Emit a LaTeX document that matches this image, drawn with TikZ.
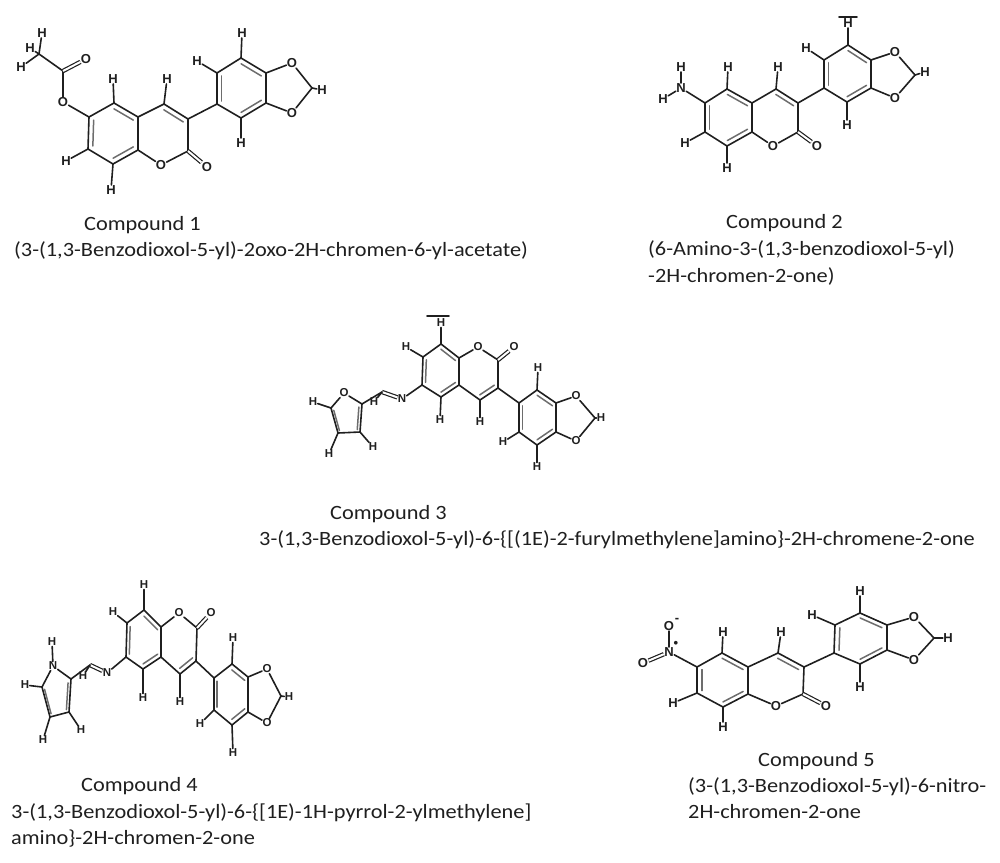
\documentclass[tikz,border=0pt]{standalone}
\usepackage{fontspec}
\setmainfont[FakeStretch=1.1]{Carlito}
\newfontfamily\atomfont{Liberation Sans}
\usetikzlibrary{calc}
\definecolor{inkdark}{gray}{0.12}
\newcommand{\atomsize}{13}
\tikzset{
	atom/.style={inner sep=0.3pt,font=\fontsize{\atomsize}{\atomsize}\atomfont\bfseries,text=inkdark},
	bond/.style={draw=inkdark,line width=1.6pt,line cap=round},
	innerbond/.style={draw=inkdark!65,line width=1.5pt,line cap=round},
	dblbond/.style={draw=inkdark,line width=1.2pt,double=white,double distance=2pt},
	caption/.style={anchor=base west,inner sep=0pt,font=\fontsize{20.3}{20.3}\selectfont,text=inkdark}
}
% inner line of a ring bond, pulled towards the ring centre
\newcommand{\inbond}[3]{\draw[innerbond] ($(#1)!.19!(#3)$) -- ($(#2)!.19!(#3)$);}
% #1 prefix, #2 carbons, #3 hydrogens, #4 oxygens
\newcommand{\corering}[4]{
	\foreach \n/\x/\y in {#2} \coordinate (#1\n) at (\x,\y);
	\foreach \n/\x/\y in {#3} \node[atom] (#1\n) at (\x,\y) {H};
	\foreach \n/\x/\y in {#4} \node[atom] (#1\n) at (\x,\y) {O};
	\coordinate (#1ra) at ($(#1c6)!.5!(#1c8a)$);
	\coordinate (#1rb) at ($(#1c3)!.5!(#1c8a)$);
	\coordinate (#1rc) at ($(#1p1)!.5!(#1p4)$);
	\draw[bond] (#1c6) -- (#1c5) -- (#1c4a) -- (#1c8a) -- (#1c8) -- (#1c7) -- (#1c6);
	\draw[bond] (#1c4a) -- (#1c4) -- (#1c3) -- (#1c2) -- (#1o1) -- (#1c8a);
	\draw[bond] (#1c3) -- (#1p1) -- (#1p2) -- (#1p3) -- (#1p4) -- (#1p5) -- (#1p6) -- (#1p1);
	\draw[bond] (#1p4) -- (#1oa) -- (#1ch) -- (#1ob) -- (#1p5);
	\draw[dblbond] (#1c2) -- (#1ox);
	\inbond{#1c5}{#1c4a}{#1ra}
	\inbond{#1c6}{#1c7}{#1ra}
	\inbond{#1c8}{#1c8a}{#1ra}
	\inbond{#1c4}{#1c3}{#1rb}
	\inbond{#1p1}{#1p2}{#1rc}
	\inbond{#1p3}{#1p4}{#1rc}
	\inbond{#1p5}{#1p6}{#1rc}
	\draw[bond] (#1c5) -- (#1h5);
	\draw[bond] (#1c4) -- (#1h4);
	\draw[bond] (#1c7) -- (#1h7);
	\draw[bond] (#1c8) -- (#1h8);
	\draw[bond] (#1p2) -- (#1hp2);
	\draw[bond] (#1p3) -- (#1hp3);
	\draw[bond] (#1p6) -- (#1hp6);
	\draw[bond] (#1ch) -- (#1hch);
}
\begin{document}
\begin{tikzpicture}[x=1pt,y=-1pt]
	\useasboundingbox (0,0) rectangle (1000,862);
	% compound 1
	\corering{a}{c6/89/117,c5/114/103,c4a/138/117,c8a/138/150,c8/113/164,c7/88/149,c2/188/151,c3/188/119,c4/164/104,p1/217/104,p2/217/73,p3/241/58,p4/266/73,p5/266/103,p6/241/118,ch/312/88}
		{h5/113/79,h4/167/79,h7/66/161,h8/111/190,hp2/197/61,hp3/242/33,hp6/241/143,hch/322/90}
		{o1/161/165,ox/207/167,oa/292/63,ob/292/113}
	\coordinate (ame) at (39,54);
	\coordinate (aco) at (63,71);
	\node[atom] (aoe) at (63,102) {O};
	\node[atom] (aoc) at (86,59) {O};
	\node[atom] (aha) at (42,33) {H};
	\node[atom] (ahb) at (30,48) {H};
	\node[atom] (ahc) at (21,67) {H};
	\draw[bond] (ac6) -- (aoe) -- (aco) -- (ame);
	\draw[dblbond] (aco) -- (aoc);
	\draw[bond] (ame) -- (aha);
	\draw[bond] (ame) -- (ahb);
	\draw[bond] (ame) -- (ahc);
	\node[caption] (atitle) at (84,230) {Compound 1};
	\node[caption] (aname) at (14,256) {(3-(1,3-Benzodioxol-5-yl)-2oxo-2H-chromen-6-yl-acetate)};
	% compound 2
	\corering{b}{c6/705/103,c5/727/89,c4a/752/103,c8a/752/132,c8/727/146,c7/705/132,c2/798/132,c3/798/103,c4/776/89,p1/824/88,p2/824/60,p3/848/45,p4/871/60,p5/871/88,p6/847/102,ch/915/75}
		{h5/728/67,h4/778/67,h7/685/143,h8/727/168,hp2/806/48,hp3/848/23,hp6/847/125,hch/925/72}
		{o1/773/146,ox/817/146,oa/895/52,ob/895/98}
	\node[atom] (bn) at (681,88) {N};
	\node[atom] (bha) at (681,67) {H};
	\node[atom] (bhb) at (663,99) {H};
	\draw[bond] (bc6) -- (bn);
	\draw[bond] (bn) -- (bha);
	\draw[bond] (bn) -- (bhb);
	\draw[bond] (839,17) -- (857,17);
	\node[caption] (btitle) at (726,228) {Compound 2};
	\node[caption] (bname) at (648,255) {(6-Amino-3-(1,3-benzodioxol-5-yl)};
	\node[caption] (bnameb) at (648,282) {-2H-chromen-2-one)};
	% compound 3
	\renewcommand{\atomsize}{11.5}
	\corering{c}{c6/422/385,c5/441/397,c4a/459/385,c8a/459/358,c8/441/344,c7/423/357,c2/498/360,c3/498/388,c4/480/400,p1/519/403,p2/519/432,p3/537/445,p4/556/432,p5/556/403,p6/537/390,ch/595/418}
		{h5/440/420,h4/480/422,h7/406/347,h8/441/323,hp2/503/442,hp3/537/467,hp6/538/368,hch/601/418}
		{o1/478/347,ox/514/347,oa/576/441,ob/576/396}
	\node[atom] (cn) at (402,399) {N};
	\coordinate (cim) at (382,392);
	\node[atom] (chim) at (374,402) {H};
	\coordinate (cfa) at (362,404);
	\node[atom] (cfo) at (344,393) {O};
	\coordinate (cfb) at (331,408);
	\coordinate (cfc) at (338,433);
	\coordinate (cfd) at (360,432);
	\node[atom] (cha) at (313,402) {H};
	\node[atom] (chb) at (329,454) {H};
	\node[atom] (chc) at (373,447) {H};
	\draw[bond] (cc6) -- (cn);
	\draw[dblbond] (cn) -- (cim);
	\draw[bond] (cim) -- (cfa) -- (cfo) -- (cfb) -- (cfc) -- (cfd) -- (cfa);
	\draw[bond] (cim) -- (chim);
	\coordinate (crf) at ($(cfb)!.5!(cfd)$);
	\inbond{cfb}{cfc}{crf}
	\inbond{cfd}{cfa}{crf}
	\draw[bond] (cfb) -- (cha);
	\draw[bond] (cfc) -- (chb);
	\draw[bond] (cfd) -- (chc);
	\draw[bond] (427,316) -- (449,316);
	\node[caption] (ctitle) at (330,519) {Compound 3};
	\node[caption] (cname) at (259,545) {3-(1,3-Benzodioxol-5-yl)-6-\{[(1E)-2-furylmethylene]amino\}-2H-chromene-2-one};
	% compound 4
	\corering{d}{c6/126/657,c5/143/669,c4a/161/657,c8a/161/627,c8/144/610,c7/127/623,c2/197/628,c3/196/661,c4/180/674,p1/214/678,p2/214/710,p3/232/725,p4/248/712,p5/248/677,p6/232/664,ch/281/696}
		{h5/143/698,h4/180/702,h7/113/612,h8/144/585,hp2/200/724,hp3/233/753,hp6/233/638,hch/289/697}
		{o1/179/613,ox/211/613,oa/267/723,ob/267/669}
	\node[atom] (dn) at (107,673) {N};
	\coordinate (dim) at (90,665);
	\node[atom] (dhim) at (83,676) {H};
	\coordinate (dfa) at (71,679);
	\node[atom] (dfn) at (53,666) {N};
	\coordinate (dfb) at (42,687);
	\coordinate (dfc) at (50,717);
	\coordinate (dfd) at (69,712);
	\node[atom] (dhn) at (52,642) {H};
	\node[atom] (dha) at (25,685) {H};
	\node[atom] (dhb) at (43,740) {H};
	\node[atom] (dhc) at (81,730) {H};
	\draw[bond] (dc6) -- (dn);
	\draw[dblbond] (dn) -- (dim);
	\draw[bond] (dim) -- (dfa) -- (dfn) -- (dfb) -- (dfc) -- (dfd) -- (dfa);
	\draw[bond] (dim) -- (dhim);
	\coordinate (drf) at ($(dfb)!.5!(dfd)$);
	\inbond{dfb}{dfc}{drf}
	\inbond{dfd}{dfa}{drf}
	\draw[bond] (dfn) -- (dhn);
	\draw[bond] (dfb) -- (dha);
	\draw[bond] (dfc) -- (dhb);
	\draw[bond] (dfd) -- (dhc);
	\node[caption] (dtitle) at (81,791) {Compound 4};
	\node[caption] (dname) at (11,818) {3-(1,3-Benzodioxol-5-yl)-6-\{[1E)-1H-pyrrol-2-ylmethylene]};
	\node[caption] (dnameb) at (11,844) {amino\}-2H-chromen-2-one};
	% compound 5
	\renewcommand{\atomsize}{13}
	\corering{e}{c6/697/667,c5/722/653,c4a/748/667,c8a/748/694,c8/723/707,c7/697/693,c2/803/694,c3/804/667,c4/778/653,p1/834/653,p2/835/625,p3/860/613,p4/887/625,p5/887/650,p6/860/664,ch/934/638}
		{h5/723/632,h4/781/632,h7/673/703,h8/723/727,hp2/812/615,hp3/860/591,hp6/860/687,hch/948/638}
		{o1/776/706,ox/826/706,oa/914/617,ob/914/660}
	\node[atom] (en) at (669,652) {N};
	\node[atom] (eoa) at (669,626) {O};
	\node[atom] (eob) at (643,663) {O};
	\node[atom] (eminus) at (677,620) {-};
	\node[atom] (eplus) at (676,644) {\textbullet};
	\draw[bond] (ec6) -- (en);
	\draw[bond] (en) -- (eoa);
	\draw[dblbond] (en) -- (eob);
	\node[caption] (etitle) at (758,766) {Compound 5};
	\node[caption] (ename) at (688,792) {(3-(1,3-Benzodioxol-5-yl)-6-nitro-};
	\node[caption] (enameb) at (688,818) {2H-chromen-2-one};
\end{tikzpicture}
\end{document}
